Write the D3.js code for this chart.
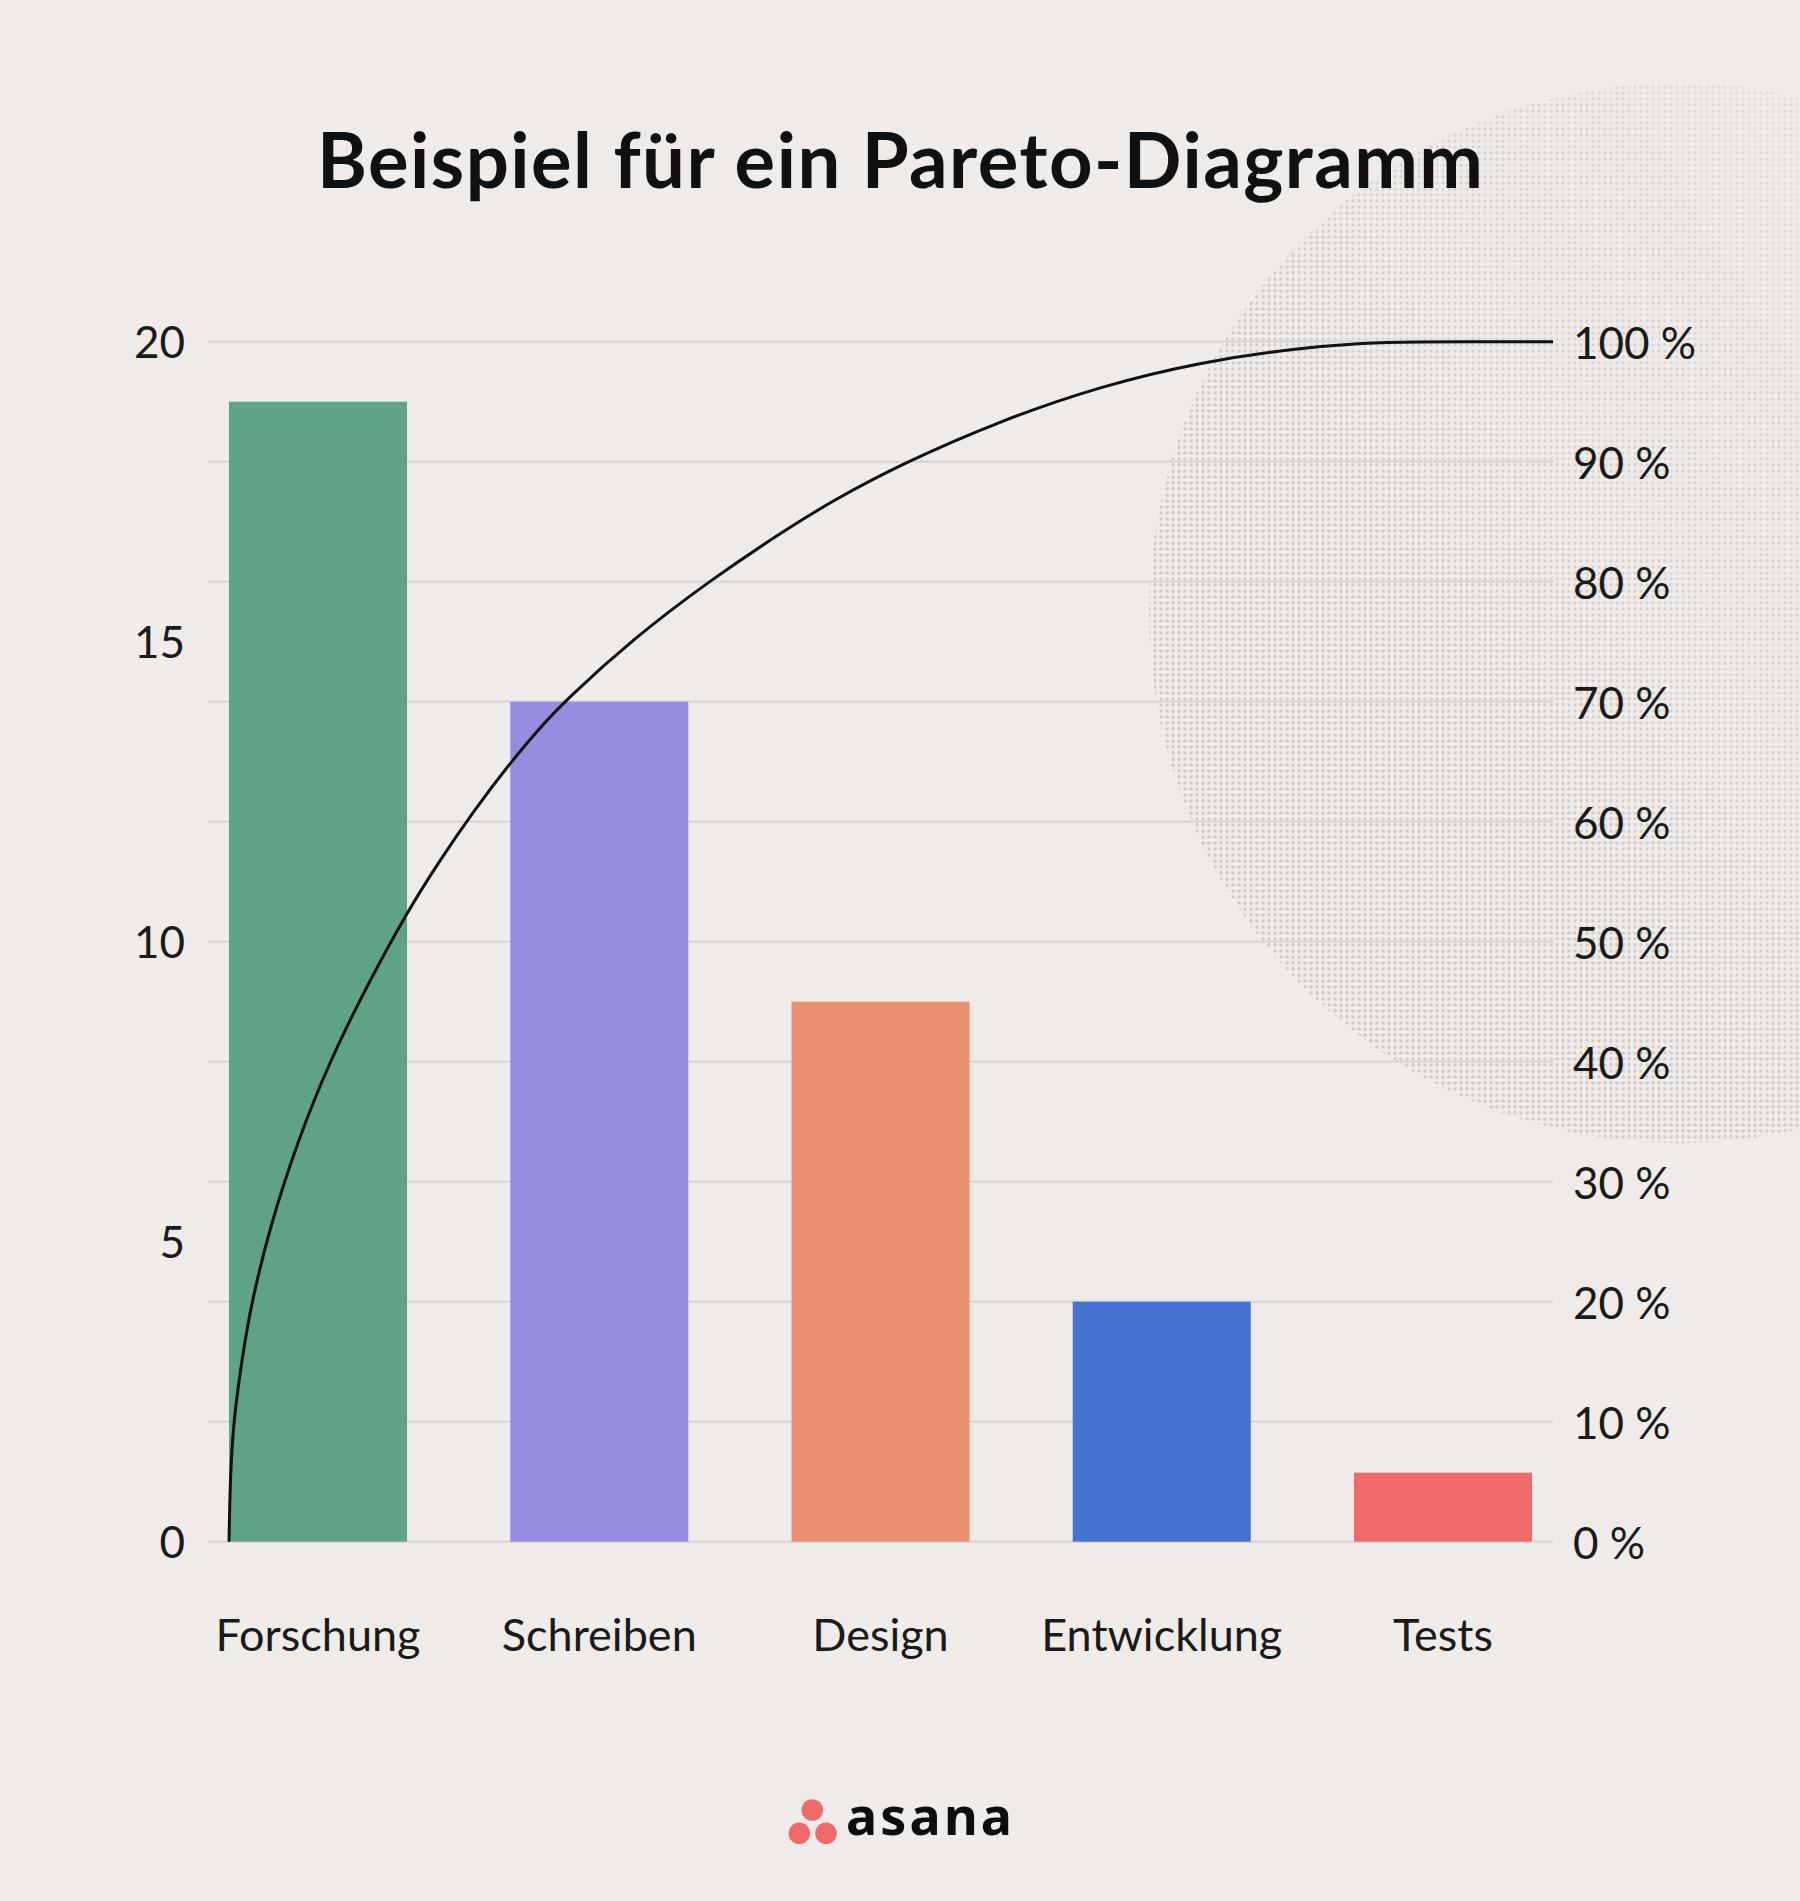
<!DOCTYPE html>
<html><head><meta charset="utf-8">
<script src="https://cdn.jsdelivr.net/npm/d3@7"></script>
<style>html,body{margin:0;padding:0;background:#eeebe9;} svg{display:block}</style>
</head><body>
<script>
// ---------- data ----------
const title = "Beispiel für ein Pareto-Diagramm";
const categories = ["Forschung", "Schreiben", "Design", "Entwicklung", "Tests"];
const values = [19, 14, 9, 4, 1.15];
const barColors = ["#5fa386", "#958ce0", "#ec9074", "#4673d1", "#ef6a68"];
const leftTicks = [0, 5, 10, 15, 20];
const leftTickLabels = ["0", "5", "10", "15", "20"];
const rightTicks = [0, 10, 20, 30, 40, 50, 60, 70, 80, 90, 100];
const rightTickLabels = ["0 %", "10 %", "20 %", "30 %", "40 %", "50 %", "60 %", "70 %", "80 %", "90 %", "100 %"];
const gridValues = [0, 2, 4, 6, 8, 10, 12, 14, 16, 18, 20];
// cumulative curve: position in category steps from the left edge of the first bar, and percent
const curvePos = [0, 0.004, 0.015, 0.051, 0.081, 0.146, 0.244, 0.359, 0.490, 0.626, 0.75, 0.87, 1.0, 1.1, 1.2, 1.44, 1.71, 1.97, 2.15, 2.39, 2.74, 3.1, 3.45, 3.81, 4.05, 4.16, 4.708];
const curvePct = [0, 5, 10, 16.0, 20, 26.3, 33.4, 40.1, 46.3, 52.2, 56.8, 60.9, 64.9, 67.7, 70.2, 75.3, 80.1, 84.2, 86.8, 89.8, 93.4, 96.3, 98.3, 99.5, 99.9, 100, 100];

// ---------- layout ----------
const W = 1800, H = 1901;
const svg = d3.select("body").append("svg").attr("width", W).attr("height", H);

const defs = svg.append("defs");
const pat = defs.append("pattern").attr("id", "dots").attr("patternUnits", "userSpaceOnUse")
  .attr("width", 6).attr("height", 6);
pat.append("circle").attr("cx", 3).attr("cy", 3).attr("r", 1.7).attr("fill", "#b8b3b1");
const lg = defs.append("linearGradient").attr("id", "fadeLR").attr("x1", 0).attr("y1", 1).attr("x2", 1).attr("y2", 0);
lg.append("stop").attr("offset", "0").attr("stop-color", "#fff").attr("stop-opacity", 1);
lg.append("stop").attr("offset", "0.45").attr("stop-color", "#fff").attr("stop-opacity", 0.85);
lg.append("stop").attr("offset", "1").attr("stop-color", "#fff").attr("stop-opacity", 0.35);
const mask = defs.append("mask").attr("id", "circMask");
mask.append("rect").attr("x", 1149).attr("y", 83).attr("width", 651).attr("height", 1060).attr("fill", "url(#fadeLR)");

svg.append("rect").attr("width", W).attr("height", H).attr("fill", "#eeebe9");
// textured circle in the background
svg.append("circle").attr("cx", 1679).attr("cy", 613).attr("r", 530)
  .attr("fill", "url(#dots)").attr("opacity", 0.62).attr("mask", "url(#circMask)");

// title
const titleText = svg.append("text")
  .attr("x", 900).attr("y", 188)
  .attr("text-anchor", "middle")
  .style("font-family", "Lato, 'Noto Sans', sans-serif")
  .style("font-weight", 700)
  .style("font-size", "76px")
  .attr("fill", "#111")
  .text(title);
{
  const len = titleText.node().getComputedTextLength();
  const target = 1166;
  const ls = (target - len) / (title.length - 1);
  titleText.style("letter-spacing", ls + "px").attr("x", 900 + ls / 2);
}

// scales
const x = d3.scaleBand().domain(categories).range([177.4, 1583.6]).paddingInner(0.367).paddingOuter(0.1835);
const y = d3.scaleLinear().domain([0, 20]).range([1541.7, 341.7]);
const yPct = d3.scaleLinear().domain([0, 100]).range([1541.7, 341.7]);
const x0 = x(categories[0]);
const xCurve = d3.scaleLinear().domain([0, 1]).range([x0, x0 + x.step()]);

// gridlines
svg.append("g").selectAll("line").data(gridValues).join("line")
  .attr("x1", 208).attr("x2", 1553)
  .attr("y1", d => y(d)).attr("y2", d => y(d))
  .attr("stroke", "#d9d5d3").attr("stroke-width", 2.2);

// bars
svg.append("g").selectAll("rect").data(categories).join("rect")
  .attr("x", d => x(d))
  .attr("width", x.bandwidth())
  .attr("y", (d, i) => y(values[i]))
  .attr("height", (d, i) => y(0) - y(values[i]))
  .attr("fill", (d, i) => barColors[i]);

// curve
const curveData = curvePos.map((p, i) => [p, curvePct[i]]);
svg.append("path").datum(curveData)
  .attr("d", d3.line().x(d => xCurve(d[0])).y(d => yPct(d[1])).curve(d3.curveBasis))
  .attr("fill", "none").attr("stroke", "#111").attr("stroke-width", 3)
  .attr("stroke-linecap", "butt");

// axes
const labelFont = "Lato, 'Noto Sans', sans-serif";
const leftAxis = svg.append("g").attr("transform", "translate(185,0)")
  .call(d3.axisLeft(y).tickValues(leftTicks).tickFormat((d, i) => leftTickLabels[i]).tickSize(0).tickPadding(0));
leftAxis.select(".domain").remove();
leftAxis.selectAll("text").style("font-family", labelFont).style("font-size", "44px").attr("fill", "#1a1a1a").attr("dy", "0.36em");

const rightAxis = svg.append("g").attr("transform", "translate(1573,0)")
  .call(d3.axisRight(yPct).tickValues(rightTicks).tickFormat((d, i) => rightTickLabels[i]).tickSize(0).tickPadding(0));
rightAxis.select(".domain").remove();
rightAxis.selectAll("text").style("font-family", labelFont).style("font-size", "44px").attr("fill", "#1a1a1a").attr("dy", "0.38em");

const bottomAxis = svg.append("g").attr("transform", "translate(0,1619)")
  .call(d3.axisBottom(x).tickSize(0).tickPadding(0));
bottomAxis.select(".domain").remove();
bottomAxis.selectAll("text").style("font-family", labelFont).style("font-size", "45px").attr("fill", "#1a1a1a");

// asana logo
const logo = svg.append("g");
[[812.3, 1810], [799.3, 1833.3], [826, 1833.3]].forEach(c => {
  logo.append("circle").attr("cx", c[0]).attr("cy", c[1]).attr("r", 10.8).attr("fill", "#f06a6a");
});
const logoText = logo.append("text").attr("x", 846).attr("y", 1835)
  .style("font-family", "'Noto Sans', sans-serif").style("font-weight", 700).style("font-size", "52px")
  .attr("fill", "#0d0d0d").text("asana");
{
  const len = logoText.node().getComputedTextLength();
  logoText.style("letter-spacing", ((166 - len) / 4) + "px");
}
</script>
</body></html>
